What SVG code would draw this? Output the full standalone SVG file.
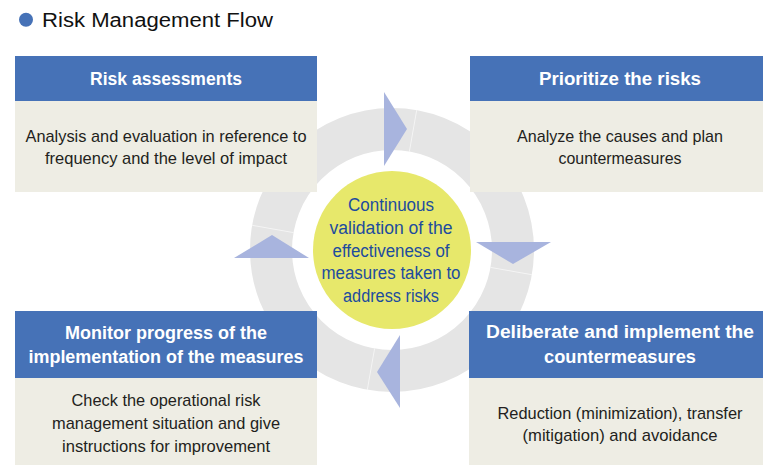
<svg xmlns="http://www.w3.org/2000/svg" width="763" height="465" viewBox="0 0 763 465">
  <style>
    .hdr { fill: #4672b7; }
    .body { fill: #eeede4; }
    .ht { font-family: "Liberation Sans", Arial, sans-serif; font-weight: bold; font-size: 18px; fill: #ffffff; text-anchor: middle; }
    .bt { font-family: "Liberation Sans", Arial, sans-serif; font-size: 17px; fill: #231f20; text-anchor: middle; }
    .ct { font-family: "Liberation Sans", Arial, sans-serif; font-size: 18px; fill: #1d4c9e; text-anchor: middle; }
    .arrow { fill: #a8b4de; }
    .gap { stroke: #ffffff; stroke-width: 1; opacity: 0.6; }
  </style>

  <!-- heading -->
  <circle cx="26" cy="19.7" r="7" fill="#4672b7"/>
  <text x="42" y="27" font-family="'Liberation Sans', Arial, sans-serif" font-size="20" fill="#111111" textLength="231" lengthAdjust="spacingAndGlyphs">Risk Management Flow</text>

  <!-- background ring -->
  <g id="ring">
    <circle cx="392" cy="250" r="121" fill="none" stroke="#e5e5e5" stroke-width="42"/>
    <line class="gap" x1="409.4" y1="151.5" x2="416.7" y2="110.2"/>
    <line class="gap" x1="490.5" y1="267.4" x2="531.8" y2="274.7"/>
    <line class="gap" x1="374.6" y1="348.5" x2="367.3" y2="389.8"/>
    <line class="gap" x1="293.5" y1="232.6" x2="252.2" y2="225.3"/>
  </g>

  <g id="risk-assessments">
    <rect class="hdr" x="15" y="56" width="302" height="45"/>
    <rect class="body" x="15" y="101" width="302" height="91"/>
    <text class="ht" x="166" y="85" textLength="152" lengthAdjust="spacingAndGlyphs">Risk assessments</text>
    <text class="bt" x="166" y="142" textLength="281" lengthAdjust="spacingAndGlyphs">Analysis and evaluation in reference to</text>
    <text class="bt" x="166" y="164" textLength="242" lengthAdjust="spacingAndGlyphs">frequency and the level of impact</text>
  </g>

  <g id="prioritize">
    <rect class="hdr" x="470" y="56" width="293" height="45"/>
    <rect class="body" x="470" y="101" width="293" height="91"/>
    <text class="ht" x="620" y="85" textLength="162" lengthAdjust="spacingAndGlyphs">Prioritize the risks</text>
    <text class="bt" x="620" y="142" textLength="206" lengthAdjust="spacingAndGlyphs">Analyze the causes and plan</text>
    <text class="bt" x="620" y="164" textLength="123" lengthAdjust="spacingAndGlyphs">countermeasures</text>
  </g>

  <g id="implement">
    <rect class="hdr" x="469" y="311" width="294" height="67"/>
    <rect class="body" x="469" y="378" width="294" height="87"/>
    <text class="ht" x="620" y="338" textLength="268" lengthAdjust="spacingAndGlyphs">Deliberate and implement the</text>
    <text class="ht" x="620" y="363" textLength="152" lengthAdjust="spacingAndGlyphs">countermeasures</text>
    <text class="bt" x="620" y="419" textLength="245" lengthAdjust="spacingAndGlyphs">Reduction (minimization), transfer</text>
    <text class="bt" x="620" y="441" textLength="195" lengthAdjust="spacingAndGlyphs">(mitigation) and avoidance</text>
  </g>

  <g id="monitor">
    <rect class="hdr" x="15" y="311" width="302" height="67"/>
    <rect class="body" x="15" y="378" width="302" height="87"/>
    <text class="ht" x="166" y="339" textLength="202" lengthAdjust="spacingAndGlyphs">Monitor progress of the</text>
    <text class="ht" x="166" y="363" textLength="275" lengthAdjust="spacingAndGlyphs">implementation of the measures</text>
    <text class="bt" x="166" y="406" textLength="189" lengthAdjust="spacingAndGlyphs">Check the operational risk</text>
    <text class="bt" x="166" y="429" textLength="228" lengthAdjust="spacingAndGlyphs">management situation and give</text>
    <text class="bt" x="166" y="452" textLength="208" lengthAdjust="spacingAndGlyphs">instructions for improvement</text>
  </g>

  <g id="validation">
    <circle cx="392" cy="250" r="79" fill="#e7e86b"/>
    <text class="ct" x="391" y="211" textLength="86" lengthAdjust="spacingAndGlyphs">Continuous</text>
    <text class="ct" x="391" y="234" textLength="123" lengthAdjust="spacingAndGlyphs">validation of the</text>
    <text class="ct" x="391" y="257" textLength="117" lengthAdjust="spacingAndGlyphs">effectiveness of</text>
    <text class="ct" x="391" y="279" textLength="139" lengthAdjust="spacingAndGlyphs">measures taken to</text>
    <text class="ct" x="391" y="302" textLength="96" lengthAdjust="spacingAndGlyphs">address risks</text>
  </g>

  <!-- flow arrows around the ring -->
  <g id="connectors">
    <polygon class="arrow" points="384,92 407,129 384,166"/>
    <polygon class="arrow" points="476,242 551,242 513,264"/>
    <polygon class="arrow" points="400,335 377,372 400,408"/>
    <polygon class="arrow" points="234,258 272,235 309,258"/>
  </g>
</svg>
